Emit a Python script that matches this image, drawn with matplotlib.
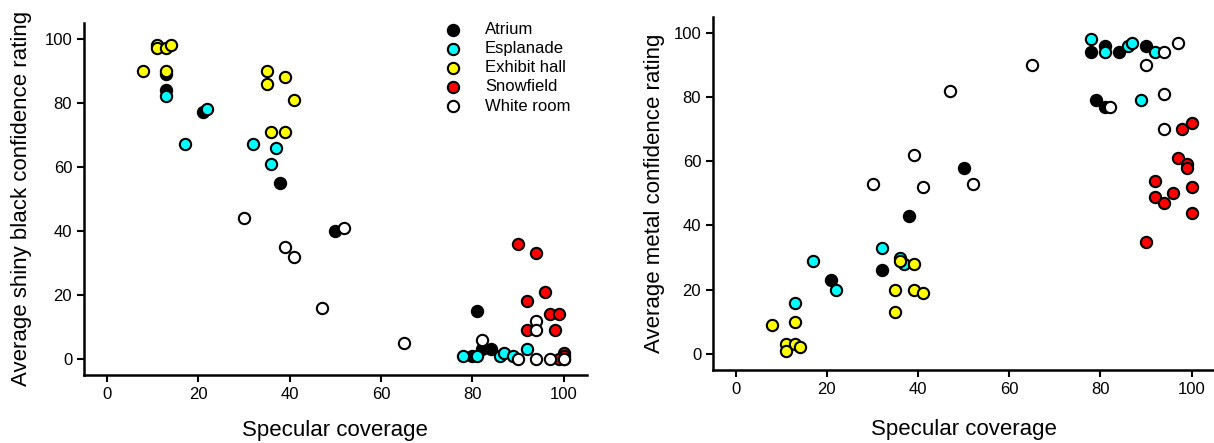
import matplotlib
matplotlib.use("Agg")
import matplotlib.pyplot as plt

plt.rcParams["font.family"] = ["Liberation Sans", "DejaVu Sans"]

groups = ["Atrium", "Esplanade", "Exhibit hall", "Snowfield", "White room"]
colors = ["black", "#00ffff", "#ffff00", "#ff0000", "white"]

# left panel: shiny black confidence
atrium_x_l = [13, 13, 21, 38, 50, 81, 80, 82, 84]
atrium_y_l = [89, 84, 77, 55, 40, 15, 1, 3, 3]
espl_x_l = [13, 17, 22, 32, 36, 37, 78, 81, 86, 87, 89, 92]
espl_y_l = [82, 67, 78, 67, 61, 66, 1, 1, 1, 2, 1, 3]
exh_x_l = [8, 11, 11, 13, 13, 14, 35, 35, 36, 39, 39, 41]
exh_y_l = [90, 98, 97, 97, 90, 98, 90, 86, 71, 88, 71, 81]
snow_x_l = [90, 94, 96, 92, 97, 99, 92, 98, 100, 100, 100, 99]
snow_y_l = [36, 33, 21, 18, 14, 14, 9, 9, 2, 1, 0, 0]
white_x_l = [30, 39, 41, 47, 52, 65, 82, 94, 94, 90, 94, 97, 100]
white_y_l = [44, 35, 32, 16, 41, 5, 6, 12, 9, 0, 0, 0, 0]

# right panel: metal confidence
atrium_x_r = [21, 32, 38, 50, 78, 81, 84, 90, 79, 81]
atrium_y_r = [23, 26, 43, 58, 94, 96, 94, 96, 79, 77]
espl_x_r = [13, 17, 22, 32, 36, 37, 78, 81, 86, 87, 89, 92]
espl_y_r = [16, 29, 20, 33, 30, 28, 98, 94, 96, 97, 79, 94]
exh_x_r = [8, 11, 11, 13, 13, 14, 35, 35, 36, 39, 39, 41]
exh_y_r = [9, 3, 1, 10, 3, 2, 20, 13, 29, 28, 20, 19]
snow_x_r = [98, 100, 97, 99, 99, 92, 100, 92, 96, 94, 100, 90]
snow_y_r = [70, 72, 61, 59, 58, 54, 52, 49, 50, 47, 44, 35]
white_x_r = [47, 39, 30, 41, 52, 65, 94, 97, 90, 82, 94, 94]
white_y_r = [82, 62, 53, 52, 53, 90, 94, 97, 90, 77, 81, 70]

left = [(atrium_x_l, atrium_y_l), (espl_x_l, espl_y_l), (exh_x_l, exh_y_l),
        (snow_x_l, snow_y_l), (white_x_l, white_y_l)]
right = [(atrium_x_r, atrium_y_r), (espl_x_r, espl_y_r), (exh_x_r, exh_y_r),
         (snow_x_r, snow_y_r), (white_x_r, white_y_r)]

fig = plt.figure(figsize=(12.14, 4.43), dpi=100)
ax1 = fig.add_axes([0.0692, 0.1535, 0.414, 0.795])
ax2 = fig.add_axes([0.5873, 0.165, 0.413, 0.797])


def panel(ax, data, ylabel, xpad, ypad):
    for (x, y), name, c in zip(data, groups, colors):
        ax.scatter(x, y, s=66, c=c, edgecolors="black", linewidths=1.5,
                   label=name, zorder=3)
    ax.set_xlim(-5, 105)
    ax.set_ylim(-5, 105)
    ax.set_xticks([0, 20, 40, 60, 80, 100])
    ax.set_yticks([0, 20, 40, 60, 80, 100])
    for s in ["top", "right"]:
        ax.spines[s].set_visible(False)
    for s in ["left", "bottom"]:
        ax.spines[s].set_linewidth(1.8)
    ax.tick_params(direction="out", length=5, width=1.5, labelsize=12)
    ax.set_xlabel("Specular coverage", fontsize=16, labelpad=xpad)
    ax.set_ylabel(ylabel, fontsize=16, labelpad=ypad)


panel(ax1, left, "Average shiny black confidence rating", 13, 9)
panel(ax2, right, "Average metal confidence rating", 16, 6)

ax1.legend(loc="upper right", frameon=False, fontsize=12, handletextpad=0.95,
           labelspacing=0.25, borderaxespad=0.2, bbox_to_anchor=(0.988, 1.031))

fig.savefig("out.png", dpi=100)
